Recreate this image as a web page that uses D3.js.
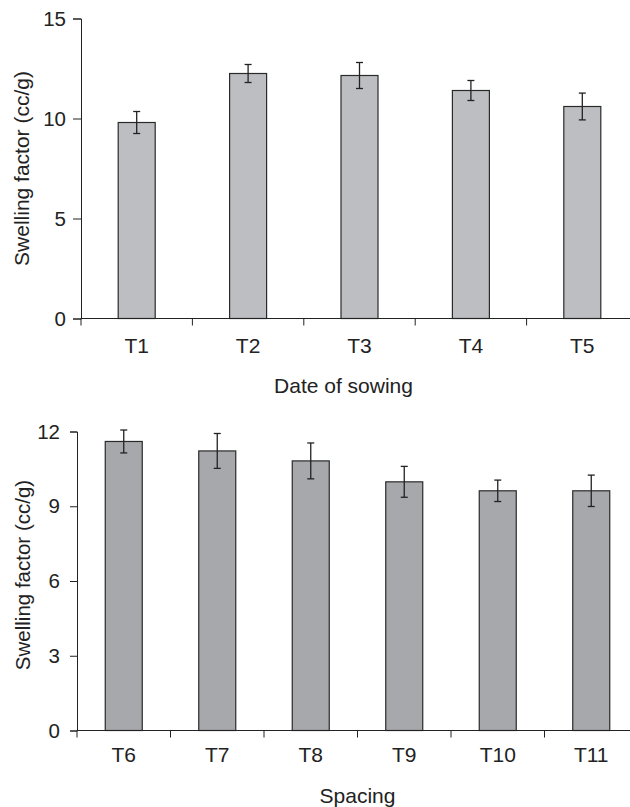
<!DOCTYPE html>
<html>
<head>
<meta charset="utf-8">
<script src="https://cdn.jsdelivr.net/npm/d3@7"></script>
<style>
  body { margin: 0; background: #fff; }
  svg text { font-family: "Liberation Sans", Arial, sans-serif; fill: #222; }
</style>
</head>
<body>
<svg id="chart" width="630" height="807"></svg>
<script>
// panel 1: date of sowing
const sowingCats = ["T1", "T2", "T3", "T4", "T5"];
const sowingMeans = [9.8, 12.25, 12.15, 11.4, 10.6];
const sowingErr = [0.55, 0.45, 0.65, 0.5, 0.67];
const sowingTicks = [0, 5, 10, 15];

// panel 2: spacing
const spacingCats = ["T6", "T7", "T8", "T9", "T10", "T11"];
const spacingMeans = [11.6, 11.22, 10.82, 9.98, 9.62, 9.62];
const spacingErr = [0.46, 0.7, 0.72, 0.62, 0.43, 0.63];
const spacingTicks = [0, 3, 6, 9, 12];

const svg = d3.select("#chart");

function drawPanel(opts) {
    const g = svg.append("g");

    const x = d3.scaleBand()
        .domain(opts.cats)
        .range([opts.left, opts.right])
        .padding(0);

    const y = d3.scaleLinear()
        .domain([0, opts.max])
        .range([opts.bottom, opts.top]);

    const barW = 37;
    const cx = d => x(d) + x.bandwidth() / 2;

    // bars
    g.selectAll("rect.bar")
        .data(opts.cats)
        .join("rect")
        .attr("class", "bar")
        .attr("x", d => cx(d) - barW / 2)
        .attr("y", (d, i) => y(opts.means[i]))
        .attr("width", barW)
        .attr("height", (d, i) => y(0) - y(opts.means[i]))
        .attr("fill", opts.fill)
        .attr("stroke", "#2a2a2a")
        .attr("stroke-width", 1.2);

    // error bars
    const eb = g.selectAll("g.err")
        .data(opts.cats)
        .join("g")
        .attr("class", "err")
        .attr("stroke", "#222")
        .attr("stroke-width", 1.3);
    eb.append("line")
        .attr("x1", cx).attr("x2", cx)
        .attr("y1", (d, i) => y(opts.means[i] + opts.err[i]))
        .attr("y2", (d, i) => y(opts.means[i] - opts.err[i]));
    eb.append("line")
        .attr("x1", d => cx(d) - 3.5).attr("x2", d => cx(d) + 3.5)
        .attr("y1", (d, i) => y(opts.means[i] + opts.err[i]))
        .attr("y2", (d, i) => y(opts.means[i] + opts.err[i]));
    eb.append("line")
        .attr("x1", d => cx(d) - 3.5).attr("x2", d => cx(d) + 3.5)
        .attr("y1", (d, i) => y(opts.means[i] - opts.err[i]))
        .attr("y2", (d, i) => y(opts.means[i] - opts.err[i]));

    // y axis
    const yAxis = g.append("g")
        .attr("transform", "translate(" + opts.left + ",0)")
        .call(d3.axisLeft(y).tickValues(opts.ticks).tickSize(opts.yTick).tickPadding(opts.yPad));
    yAxis.selectAll("text").style("font-size", "20.5px");
    yAxis.select(".domain").attr("stroke", "#222");
    yAxis.selectAll(".tick line").attr("stroke", "#222");

    // x axis: ticks at band edges, labels at band centres
    const xg = g.append("g")
        .attr("transform", "translate(0," + opts.bottom + ")");
    xg.append("line")
        .attr("x1", opts.left).attr("x2", opts.right)
        .attr("stroke", "#222");
    xg.selectAll("line.tk")
        .data(opts.cats)
        .join("line")
        .attr("class", "tk")
        .attr("x1", d => x(d)).attr("x2", d => x(d))
        .attr("y1", 0).attr("y2", 7)
        .attr("stroke", "#222");
    xg.selectAll("text")
        .data(opts.cats)
        .join("text")
        .attr("x", cx)
        .attr("y", opts.xLabelDy)
        .attr("text-anchor", "middle")
        .style("font-size", "21px")
        .text(d => d);

    // axis titles
    g.append("text")
        .attr("x", (opts.left + opts.right) / 2 + opts.xTitleShift)
        .attr("y", opts.xTitleY)
        .attr("text-anchor", "middle")
        .style("font-size", "21px")
        .text(opts.xTitle);

    g.append("text")
        .attr("transform", "translate(" + opts.yTitleX + "," + ((opts.top + opts.bottom) / 2 + opts.yTitleShift) + ") rotate(-90)")
        .attr("text-anchor", "middle")
        .style("font-size", opts.yTitleSize)
        .text("Swelling factor (cc/g)");
}

drawPanel({
    cats: sowingCats, means: sowingMeans, err: sowingErr, ticks: sowingTicks,
    max: 15, left: 81, right: 638, top: 18.5, bottom: 318.5,
    fill: "#bdbec1", yTick: 8, yPad: 7, xLabelDy: 34.5,
    xTitle: "Date of sowing", xTitleY: 393, xTitleShift: -16,
    yTitleX: 28.5, yTitleShift: 0, yTitleSize: "21px"
});

drawPanel({
    cats: spacingCats, means: spacingMeans, err: spacingErr, ticks: spacingTicks,
    max: 12, left: 77, right: 638, top: 431.5, bottom: 730.5,
    fill: "#a7a8ab", yTick: 7, yPad: 10, xLabelDy: 31,
    xTitle: "Spacing", xTitleY: 803, xTitleShift: 0,
    yTitleX: 30, yTitleShift: -6, yTitleSize: "20.5px"
});
</script>
</body>
</html>
